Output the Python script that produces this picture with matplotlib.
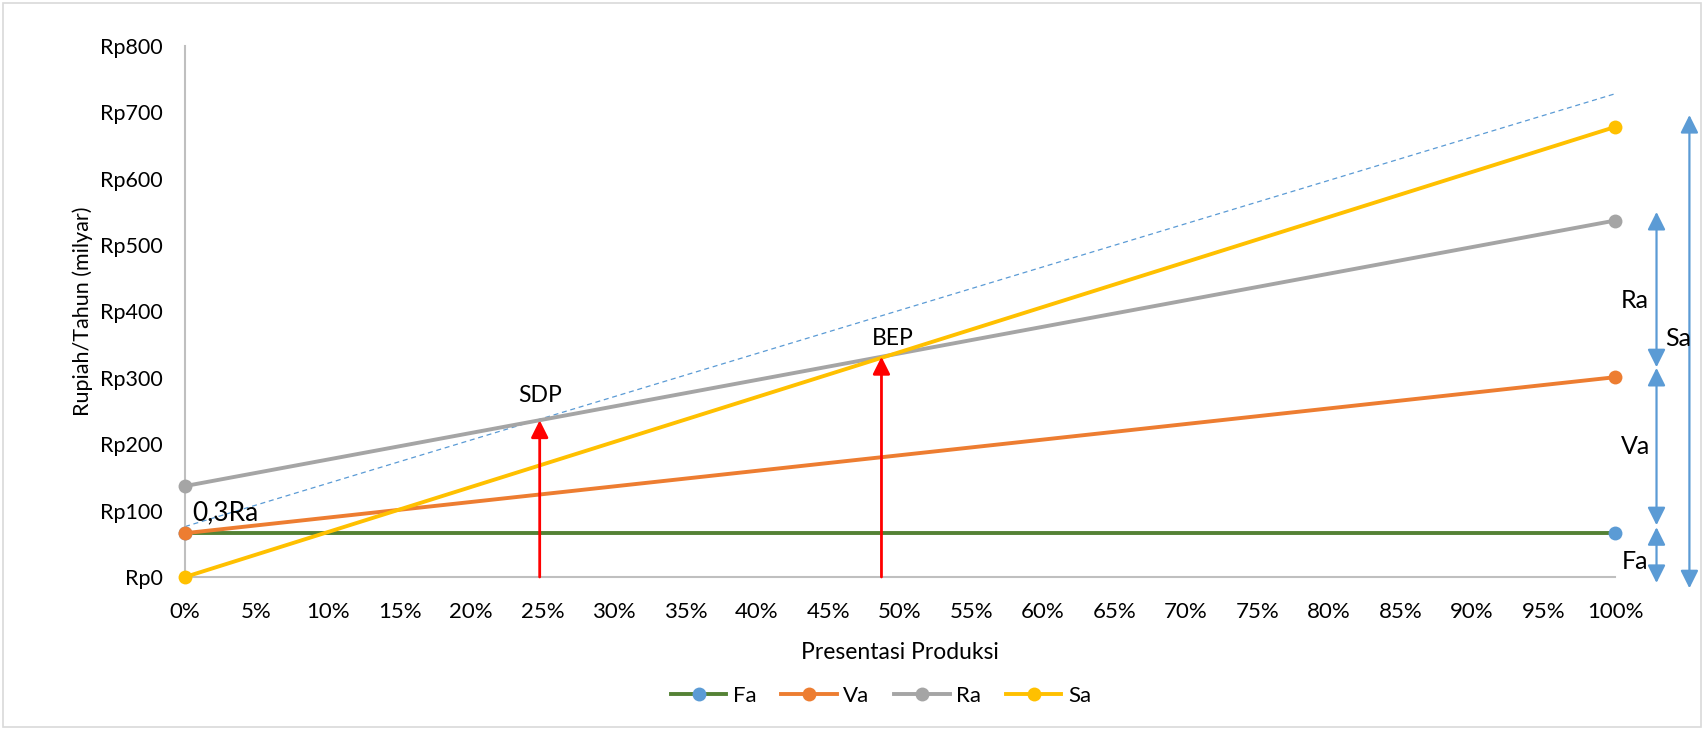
#!/usr/bin/env python3
"""Break-even chart: Fa / Va / Ra / Sa vs production percentage."""
import numpy as np
import matplotlib
matplotlib.use("Agg")
import matplotlib.pyplot as plt
from matplotlib.patches import Rectangle

# ---------------------------------------------------------------------------
# data (Rp milyar per tahun)
# ---------------------------------------------------------------------------
produksi = [0, 100]            # % produksi
fa = [66, 66]
va = [66, 301]
ra = [137, 537]
sa = [0, 678]
ra03 = [76, 728]               # garis 0,3Ra (putus-putus)

sdp_pct = 24.8
bep_pct = 48.7

# right-side brackets: (label, low, high, label_y)
brackets = [("Ra", 316, 550, 417), ("Va", 78, 315, 196), ("Fa", -9, 75, 24)]
bracket_sa = ("Sa", -17, 696, 360)

xticks = list(range(0, 101, 5))
yticks = list(range(0, 801, 100))

C_FA_LINE = "#548235"
C_FA_MARK = "#5B9BD5"
C_VA = "#ED7D31"
C_RA = "#A5A5A5"
C_SA = "#FFC000"
C_BLUE = "#5B9BD5"

plt.rcParams["font.family"] = ["Lato", "DejaVu Sans"]

fig = plt.figure(figsize=(17.04, 7.30), dpi=100)
ax = fig.add_axes([0.1086, 0.2096, 0.8392, 0.7274])

fig.patches.append(Rectangle((0.002, 0.004), 0.996, 0.992, transform=fig.transFigure,
                             fill=False, edgecolor="#D9D9D9", linewidth=1.2))

# ── series ──────────────────────────────────────────────────────────────────
kw = dict(linewidth=2.8, marker="o", markersize=10, markeredgewidth=0, clip_on=False)
ax.plot(produksi, ra03, color=C_BLUE, linewidth=0.9, dashes=(4, 3), zorder=2)
ax.plot(produksi, fa, color=C_FA_LINE, markerfacecolor=C_FA_MARK, label="Fa", zorder=3, **kw)
ax.plot(produksi, va, color=C_VA, label="Va", zorder=4, **kw)
ax.plot(produksi, ra, color=C_RA, label="Ra", zorder=3, **kw)
ax.plot(produksi, sa, color=C_SA, label="Sa", zorder=5, **kw)

# ── SDP / BEP arrows ────────────────────────────────────────────────────────
for name, pct, dx, dy in [("SDP", sdp_pct, 0, 22), ("BEP", bep_pct, 0.8, 12)]:
    top = np.interp(pct, produksi, ra)
    ax.annotate("", xy=(pct, top), xytext=(pct, 0),
                arrowprops=dict(arrowstyle="-|>", color="#FF0000", lw=2,
                                mutation_scale=26, shrinkA=0, shrinkB=0),
                zorder=6)
    ax.text(pct + dx, top + dy, name, ha="center", va="bottom",
            fontsize=16.5, zorder=7)

ax.text(0.5, 78, "0,3Ra", ha="left", va="bottom", fontsize=19, zorder=7)

# ── right-side brackets ─────────────────────────────────────────────────────
def bracket(x, lo, hi):
    ax.annotate("", xy=(x, hi), xytext=(x, lo), annotation_clip=False,
                arrowprops=dict(arrowstyle="<|-|>", color=C_BLUE, lw=1.6,
                                mutation_scale=27, shrinkA=0, shrinkB=0))

for name, lo, hi, ly in brackets:
    bracket(102.9, lo, hi)
    ax.text(101.4, ly, name, ha="center", va="center", fontsize=18, clip_on=False)

name, lo, hi, ly = bracket_sa
bracket(105.2, lo, hi)
ax.text(104.4, ly, name, ha="center", va="center", fontsize=18, clip_on=False)

# ── axes styling ────────────────────────────────────────────────────────────
ax.set_xlim(0, 100)
ax.set_ylim(0, 800)
ax.set_xticks(xticks)
ax.set_xticklabels([f"{v}%" for v in xticks])
ax.set_yticks(yticks)
ax.set_yticklabels([f"Rp{v}" for v in yticks])
ax.tick_params(axis="both", length=0)
ax.tick_params(axis="x", pad=18, labelsize=16)
ax.tick_params(axis="y", pad=16, labelsize=15.5)
for side in ("top", "right"):
    ax.spines[side].set_visible(False)
for side in ("left", "bottom"):
    ax.spines[side].set_color("#BFBFBF")
    ax.spines[side].set_linewidth(1.5)

ax.set_xlabel("Presentasi Produksi", fontsize=16.5)
ax.xaxis.set_label_coords(0.5, -0.122)
ax.set_ylabel("Rupiah/Tahun (milyar)", fontsize=15.5)
ax.yaxis.set_label_coords(-0.0645, 0.5)

fig.legend(loc="center", bbox_to_anchor=(0.517, 0.047), ncol=4, frameon=False,
           fontsize=16, handlelength=2.5, handletextpad=0.3, columnspacing=1.1)

fig.savefig("out.png", dpi=100)
